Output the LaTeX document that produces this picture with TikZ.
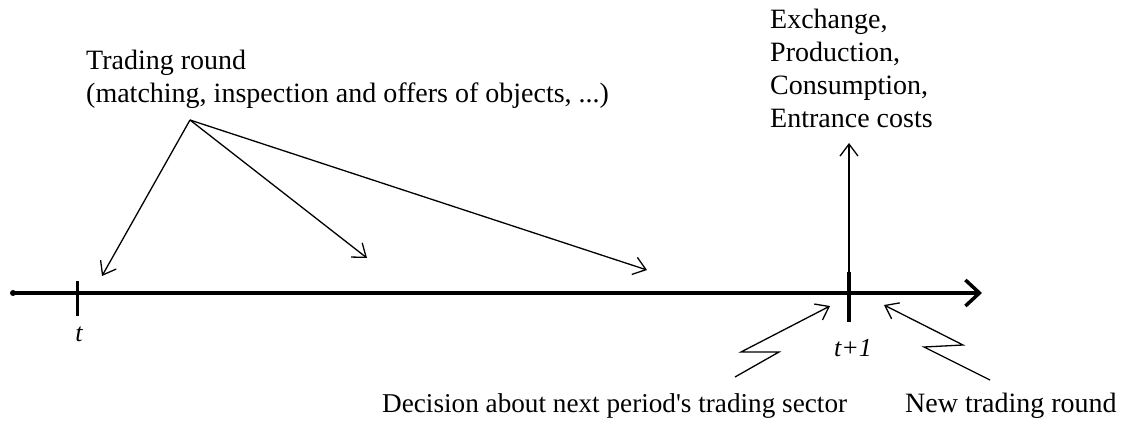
\documentclass[tikz,border=0pt]{standalone}
\usepackage{fontspec}
\setmainfont{Liberation Serif}
\usetikzlibrary{arrows.meta}

\begin{document}
\begin{tikzpicture}[x=1pt,y=-1pt,
    lbl/.style={inner sep=0pt, font=\fontsize{28}{33}\selectfont},
    tlbl/.style={inner sep=0pt, font=\fontsize{26}{30}\selectfont\itshape},
    thin arrow/.style={line width=1.3pt, -{Straight Barb[length=12pt,width=18pt,line width=1.3pt]}}]
    \useasboundingbox (0,0) rectangle (1133,423);
    % time axis
    \coordinate (start) at (13,293); \coordinate (end) at (982,293);
    \draw[line width=4pt, -{Straight Barb[length=14pt,width=26pt,line width=3.5pt]}] (start) -- (end);
    \fill (start) circle (3pt);
    \draw[line width=3pt] (77,281) -- (77,316);
    \draw[line width=4.5pt] (849,272) -- (849,322);
    \node[tlbl] (tlab) at (79,334) {t};
    \node[tlbl] (tnext) at (853,348) {t+1};
    % trading round
    \node[lbl, anchor=north west, align=left] (round) at (86,50) {Trading round\\(matching, inspection and offers of objects, ...)};
    \coordinate (src) at (190,120);
    \coordinate (r1) at (102,276); \coordinate (r2) at (367,258); \coordinate (r3) at (647,270);
    \foreach \p in {r1,r2,r3} {\draw[thin arrow] (src) -- (\p);}
    % end of period
    \node[lbl, anchor=north west, align=left] (effects) at (770,9) {Exchange,\\Production,\\Consumption,\\Entrance costs};
    \coordinate (t1) at (849,293); \coordinate (up) at (849,143);
    \draw[thin arrow] (t1) -- (up);
    % decision and new round
    \node[lbl, anchor=base west, font=\fontsize{27.2}{33}\selectfont] (decision) at (382,412) {Decision about next period\textquotesingle s trading sector};
    \node[lbl, anchor=base west] (newround) at (905,412) {New trading round};
    \coordinate (dfoot) at (735,377); \coordinate (dtip) at (830,306);
    \coordinate (nfoot) at (990,380); \coordinate (ntip) at (884,305);
    \draw[thin arrow] (dfoot) -- (779,352) -- (741,352) -- (dtip);
    \draw[thin arrow] (nfoot) -- (924,347) -- (963,345) -- (ntip);
\end{tikzpicture}
\end{document}
